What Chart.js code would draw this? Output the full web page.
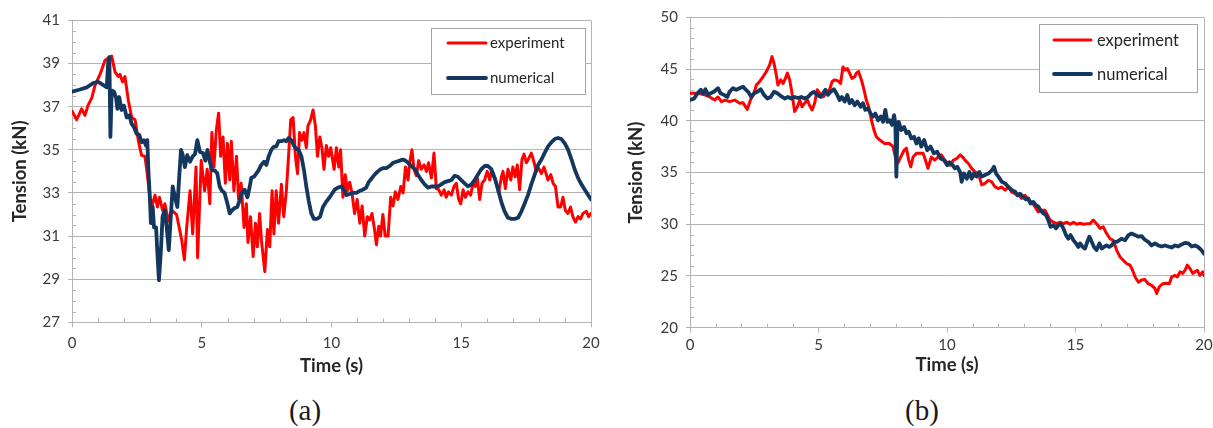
<!DOCTYPE html>
<html>
<head>
<meta charset="utf-8">
<script src="https://cdn.jsdelivr.net/npm/chart.js@4.4.1/dist/chart.umd.min.js"></script>
<style>
  html, body { margin: 0; padding: 0; background: #fff; width: 1213px; height: 428px; overflow: hidden; position: relative; }
  .panel { position: absolute; top: 0; }
  #panelA { left: 0; width: 611px; height: 385px; }
  #panelB { left: 610px; width: 614px; height: 390px; }
  .caption { position: absolute; font-family: "Liberation Serif", "DejaVu Serif", serif; font-size: 29px; line-height: 1; color: #1a1a1a; transform: translateX(-50%); }
</style>
</head>
<body>
<div class="panel" id="panelA"><canvas id="chartA"></canvas></div>
<div class="panel" id="panelB"><canvas id="chartB"></canvas></div>
<div class="caption" style="left:305px; top:396px;">(a)</div>
<div class="caption" style="left:922px; top:396px;">(b)</div>
<script>
// ---- (a) tension record, time in s, tension in kN ----
const timeA_experiment = [
  0, 0.18, 0.37, 0.5, 0.63, 0.76, 0.89, 1.08, 1.27, 1.44,
  1.53, 1.66, 1.79, 1.85, 1.95, 2.04, 2.17, 2.3, 2.43, 2.56,
  2.68, 2.81, 2.9, 3.0, 3.07, 3.2, 3.29, 3.37, 3.49, 3.58,
  3.71, 3.84, 4.03, 4.23, 4.33, 4.42, 4.55, 4.65, 4.78, 4.84,
  4.98, 5.11, 5.21, 5.31, 5.39, 5.47, 5.56, 5.65, 5.73, 5.82,
  5.91, 5.99, 6.08, 6.14, 6.24, 6.34, 6.42, 6.52, 6.63, 6.72,
  6.78, 6.88, 6.98, 7.07, 7.14, 7.23, 7.3, 7.43, 7.53, 7.62,
  7.71, 7.78, 7.87, 7.96, 8.07, 8.16, 8.26, 8.35, 8.43, 8.52,
  8.61, 8.69, 8.77, 8.86, 8.94, 9.03, 9.09, 9.2, 9.29, 9.38,
  9.46, 9.55, 9.63, 9.71, 9.8, 9.89, 9.97, 10.1, 10.19, 10.28,
  10.35, 10.44, 10.53, 10.61, 10.7, 10.79, 10.89, 10.99, 11.09, 11.18,
  11.28, 11.38, 11.47, 11.56, 11.66, 11.73, 11.82, 11.89, 11.98, 12.07,
  12.18, 12.28, 12.37, 12.46, 12.56, 12.67, 12.76, 12.85, 12.95, 13.01,
  13.1, 13.18, 13.27, 13.36, 13.46, 13.57, 13.66, 13.74, 13.85, 13.95,
  14.04, 14.13, 14.23, 14.34, 14.42, 14.51, 14.62, 14.72, 14.81, 14.9,
  14.98, 15.07, 15.16, 15.26, 15.36, 15.45, 15.54, 15.62, 15.71, 15.8,
  15.9, 16.0, 16.1, 16.16, 16.26, 16.35, 16.44, 16.55, 16.61, 16.7,
  16.8, 16.91, 16.99, 17.08, 17.16, 17.25, 17.34, 17.42, 17.51, 17.6,
  17.7, 17.8, 17.89, 17.98, 18.09, 18.19, 18.28, 18.34, 18.45, 18.54,
  18.63, 18.73, 18.83, 18.92, 19.01, 19.11, 19.21, 19.3, 19.4, 19.5,
  19.6, 19.69, 19.82, 19.91, 20.0
];
const tensionA_experiment = [
  36.8, 36.4, 36.9, 36.6, 37.1, 37.4, 38.0, 38.5, 39.15, 39.3,
  39.35, 38.6, 38.4, 38.5, 38.15, 38.4, 37.3, 36.5, 36.4, 35.4,
  34.75, 34.7, 33.9, 32.8, 32.35, 32.9, 32.35, 32.8, 32.2, 32.5,
  31.7, 32.2, 32.0, 30.8, 29.9, 31.4, 33.1, 31.1, 34.2, 30.0,
  34.5, 33.1, 34.1, 32.5, 35.8, 34.2, 35.9, 36.7, 34.7, 35.6,
  33.45, 35.3, 33.6, 35.4, 33.1, 34.7, 32.7, 33.45, 31.4, 32.5,
  30.7, 31.9, 30.05, 31.6, 30.5, 32.05, 30.8, 29.35, 31.3, 30.5,
  33.1, 31.1, 33.1, 31.6, 33.4, 31.9, 33.1, 34.8, 36.4, 36.5,
  34.7, 33.9, 35.8, 35.45, 35.8, 35.1, 36.1, 36.4, 36.85, 36.1,
  34.7, 35.6, 35.1, 34.1, 35.2, 34.7, 35.1, 34.1, 35.1, 34.2,
  35.0, 32.8, 33.85, 33.1, 33.5, 33.0, 32.05, 32.7, 31.6, 32.4,
  31.0, 31.9, 31.75, 32.05, 31.3, 30.6, 31.45, 31.0, 32.0, 31.0,
  31.0, 32.8, 32.4, 33.05, 32.7, 33.3, 33.0, 34.2, 33.6, 34.4,
  35.0, 34.1, 33.8, 34.5, 34.1, 34.3, 34.0, 34.4, 33.7, 34.85,
  33.2, 33.15, 32.9, 33.15, 32.8, 33.05, 32.9, 33.3, 33.45, 32.7,
  32.5, 33.15, 32.8, 33.05, 32.9, 33.4, 33.3, 33.7, 32.7, 33.45,
  33.6, 34.0, 33.6, 34.0, 33.75, 33.45, 33.0, 33.75, 34.0, 33.2,
  34.1, 33.6, 34.2, 33.75, 34.3, 33.15, 34.55, 34.8, 34.4, 34.6,
  34.85, 34.45, 34.0, 34.15, 33.9, 34.2, 33.85, 33.6, 33.85, 33.45,
  33.3, 32.35, 32.35, 32.8, 32.2, 32.05, 32.35, 31.9, 31.65, 31.9,
  31.8, 32.05, 32.15, 31.9, 32.05
];
const timeA_numerical = [
  0, 0.31, 0.57, 0.82, 1.01, 1.21, 1.34, 1.4, 1.44, 1.48,
  1.53, 1.62, 1.7, 1.75, 1.82, 1.91, 2.0, 2.11, 2.21, 2.3,
  2.39, 2.49, 2.59, 2.68, 2.77, 2.85, 2.9, 2.95, 3.0, 3.04,
  3.11, 3.16, 3.24, 3.3, 3.35, 3.42, 3.49, 3.57, 3.65, 3.73,
  3.8, 3.88, 3.97, 4.06, 4.14, 4.2, 4.26, 4.35, 4.44, 4.55,
  4.65, 4.74, 4.83, 4.93, 5.05, 5.14, 5.22, 5.31, 5.4, 5.5,
  5.6, 5.69, 5.78, 5.88, 5.99, 6.08, 6.17, 6.27, 6.37, 6.46,
  6.55, 6.65, 6.76, 6.85, 6.91, 7.01, 7.1, 7.19, 7.29, 7.4,
  7.49, 7.58, 7.68, 7.78, 7.87, 7.96, 8.07, 8.17, 8.26, 8.35,
  8.45, 8.55, 8.64, 8.73, 8.84, 8.94, 9.03, 9.12, 9.22, 9.32,
  9.45, 9.56, 9.67, 9.8, 9.93, 10.12, 10.25, 10.38, 10.48, 10.57,
  10.7, 10.83, 10.96, 11.09, 11.21, 11.34, 11.43, 11.53, 11.66, 11.79,
  11.89, 11.98, 12.11, 12.24, 12.37, 12.5, 12.63, 12.75, 12.85, 12.95,
  13.08, 13.21, 13.33, 13.46, 13.59, 13.72, 13.85, 13.98, 14.1, 14.23,
  14.36, 14.49, 14.62, 14.75, 14.87, 15.0, 15.13, 15.26, 15.39, 15.52,
  15.64, 15.77, 15.9, 16.03, 16.16, 16.29, 16.42, 16.54, 16.67, 16.8,
  16.93, 17.06, 17.19, 17.32, 17.44, 17.57, 17.7, 17.83, 17.96, 18.09,
  18.21, 18.34, 18.47, 18.6, 18.73, 18.86, 18.99, 19.12, 19.25, 19.37,
  19.5, 19.63, 19.76, 19.89, 20.0
];
const tensionA_numerical = [
  37.7, 37.8, 37.9, 38.1, 38.15, 38.0, 37.9, 39.15, 39.3, 35.6,
  37.75, 37.7, 37.4, 36.9, 37.45, 36.85, 37.05, 36.5, 36.6, 36.2,
  36.05, 35.75, 35.7, 35.35, 35.45, 35.2, 35.45, 33.9, 32.8, 31.6,
  32.35, 31.4, 31.4, 30.0, 28.95, 30.2, 31.9, 32.2, 31.4, 30.35,
  31.75, 33.3, 32.8, 32.35, 33.9, 35.0, 34.8, 34.2, 34.75, 34.45,
  34.7, 34.8, 35.45, 34.9, 34.85, 34.5, 35.0, 34.45, 34.05, 34.05,
  33.9, 33.3, 33.1, 33.0, 32.5, 32.05, 32.2, 32.3, 32.35, 32.65,
  33.0, 33.15, 32.8, 33.3, 33.7, 33.75, 33.9, 34.05, 34.3, 34.45,
  34.3, 34.7, 35.0, 35.15, 35.15, 35.4, 35.4, 35.45, 35.4, 35.55,
  35.45, 35.2, 35.05, 35.0, 34.7, 34.05, 33.3, 32.65, 32.05, 31.8,
  31.8, 31.9, 32.35, 32.6, 32.8, 33.15, 33.25, 33.3, 33.15, 32.9,
  32.95, 33.0, 33.0, 33.1, 33.15, 33.25, 33.5, 33.65, 33.85, 34.0,
  34.1, 34.15, 34.15, 34.25, 34.4, 34.45, 34.5, 34.55, 34.5, 34.4,
  34.25, 34.1, 33.85, 33.6, 33.4, 33.25, 33.3, 33.3, 33.3, 33.4,
  33.5, 33.55, 33.6, 33.8, 33.75, 33.6, 33.45, 33.3, 33.4, 33.6,
  33.85, 34.1, 34.25, 34.25, 34.1, 33.7, 33.15, 32.6, 32.15, 31.85,
  31.8, 31.8, 31.85, 32.15, 32.5, 32.9, 33.4, 33.85, 34.3, 34.55,
  34.85, 35.15, 35.35, 35.5, 35.55, 35.5, 35.3, 35.0, 34.55, 34.1,
  33.7, 33.4, 33.15, 32.9, 32.7
];

// ---- (b) tension record, time in s, tension in kN ----
const timeB_experiment = [
  0, 0.31, 0.57, 0.77, 0.96, 1.09, 1.22, 1.37, 1.54, 1.74,
  1.93, 2.06, 2.23, 2.36, 2.49, 2.58, 2.71, 2.84, 2.97, 3.1,
  3.19, 3.27, 3.36, 3.42, 3.53, 3.62, 3.71, 3.79, 3.88, 3.97,
  4.07, 4.18, 4.27, 4.36, 4.46, 4.57, 4.66, 4.75, 4.85, 4.95,
  5.05, 5.18, 5.3, 5.43, 5.53, 5.63, 5.76, 5.86, 5.95, 6.04,
  6.12, 6.21, 6.3, 6.41, 6.47, 6.56, 6.67, 6.77, 6.86, 6.95,
  7.06, 7.16, 7.25, 7.38, 7.57, 7.77, 7.9, 7.99, 8.09, 8.2,
  8.33, 8.42, 8.51, 8.59, 8.68, 8.81, 8.94, 9.07, 9.16, 9.26,
  9.39, 9.52, 9.65, 9.78, 9.91, 10.12, 10.25, 10.38, 10.51, 10.61,
  10.7, 10.83, 10.96, 11.09, 11.22, 11.35, 11.48, 11.61, 11.74, 11.87,
  12.0, 12.13, 12.26, 12.39, 12.52, 12.65, 12.78, 12.91, 13.04, 13.17,
  13.29, 13.42, 13.55, 13.68, 13.81, 13.91, 14.01, 14.14, 14.27, 14.4,
  14.53, 14.66, 14.79, 14.92, 15.05, 15.18, 15.31, 15.44, 15.56, 15.69,
  15.82, 15.95, 16.08, 16.21, 16.34, 16.47, 16.6, 16.73, 16.86, 16.99,
  17.12, 17.22, 17.32, 17.45, 17.57, 17.7, 17.83, 17.96, 18.09, 18.16,
  18.26, 18.39, 18.52, 18.65, 18.74, 18.87, 18.96, 19.07, 19.17, 19.26,
  19.35, 19.46, 19.56, 19.65, 19.74, 19.84, 19.95, 20.0
];
const tensionB_experiment = [
  42.65, 42.65, 42.5, 42.3, 42.0, 42.3, 41.85, 42.0, 41.85, 42.0,
  41.7, 41.75, 41.1, 42.05, 42.65, 43.45, 43.8, 44.25, 44.75, 45.4,
  46.2, 45.55, 44.4, 43.45, 43.95, 43.6, 44.1, 44.6, 43.95, 42.65,
  40.9, 41.35, 42.0, 41.35, 41.7, 42.0, 41.45, 41.05, 41.7, 43.0,
  42.65, 42.3, 42.65, 43.0, 43.8, 43.95, 43.85, 43.6, 45.2, 44.9,
  45.05, 44.6, 44.1, 44.25, 44.6, 44.75, 43.95, 43.0, 42.0, 41.35,
  40.05, 39.1, 38.45, 38.15, 37.8, 37.8, 37.5, 36.5, 35.9, 36.5,
  37.15, 37.35, 36.2, 35.55, 36.5, 36.85, 36.85, 36.85, 36.2, 35.4,
  36.5, 36.2, 36.5, 36.7, 36.2, 35.7, 36.2, 36.35, 36.7, 36.5,
  36.2, 35.87, 35.4, 35.05, 34.9, 33.8, 33.95, 34.25, 34.1, 33.6,
  33.45, 33.6, 33.3, 33.6, 33.1, 32.95, 32.8, 32.5, 32.8, 32.3,
  32.15, 31.7, 31.2, 31.35, 31.35, 30.9, 30.4, 30.2, 30.05, 30.2,
  30.05, 30.2, 30.0, 30.2, 30.0, 30.1, 30.0, 30.05, 30.05, 30.4,
  30.05, 29.6, 29.75, 29.1, 28.6, 28.45, 27.5, 26.85, 26.5, 26.2,
  26.05, 25.55, 24.9, 24.4, 24.6, 24.65, 24.25, 24.1, 23.8, 23.3,
  23.95, 24.25, 24.3, 24.25, 24.9, 25.05, 24.9, 25.4, 25.25, 25.55,
  26.05, 25.7, 25.25, 25.4, 25.55, 25.05, 25.4, 25.05
];
const timeB_numerical = [
  0, 0.16, 0.29, 0.42, 0.51, 0.6, 0.7, 0.8, 0.93, 1.09,
  1.19, 1.32, 1.45, 1.54, 1.67, 1.8, 1.93, 2.06, 2.15, 2.26,
  2.39, 2.49, 2.62, 2.75, 2.88, 3.01, 3.14, 3.27, 3.4, 3.53,
  3.68, 3.81, 3.94, 4.07, 4.2, 4.33, 4.46, 4.59, 4.72, 4.82,
  4.95, 5.08, 5.18, 5.27, 5.37, 5.47, 5.6, 5.73, 5.82, 5.91,
  6.02, 6.12, 6.21, 6.3, 6.41, 6.51, 6.64, 6.73, 6.82, 6.93,
  7.03, 7.12, 7.21, 7.32, 7.42, 7.51, 7.6, 7.68, 7.77, 7.86,
  7.94, 7.99, 8.03, 8.07, 8.12, 8.22, 8.33, 8.42, 8.51, 8.61,
  8.72, 8.81, 8.9, 9.0, 9.11, 9.23, 9.36, 9.49, 9.62, 9.75,
  9.88, 10.01, 10.1, 10.22, 10.31, 10.4, 10.51, 10.57, 10.66, 10.77,
  10.87, 10.96, 11.05, 11.15, 11.26, 11.35, 11.48, 11.61, 11.74, 11.83,
  11.91, 12.0, 12.13, 12.26, 12.39, 12.52, 12.65, 12.74, 12.84, 12.97,
  13.07, 13.16, 13.25, 13.36, 13.46, 13.55, 13.64, 13.75, 13.85, 13.94,
  14.03, 14.14, 14.24, 14.33, 14.42, 14.53, 14.63, 14.72, 14.81, 14.92,
  15.02, 15.11, 15.18, 15.28, 15.37, 15.46, 15.54, 15.63, 15.72, 15.82,
  15.93, 16.02, 16.11, 16.21, 16.31, 16.41, 16.5, 16.6, 16.7, 16.79,
  16.93, 17.06, 17.18, 17.31, 17.44, 17.57, 17.7, 17.83, 17.96, 18.09,
  18.22, 18.35, 18.48, 18.61, 18.74, 18.87, 19.0, 19.13, 19.26, 19.39,
  19.52, 19.65, 19.77, 19.9, 20.0
];
const tensionB_numerical = [
  42.0, 42.15, 42.65, 43.0, 42.65, 43.05, 42.5, 42.65, 42.8, 43.15,
  42.65, 42.5, 42.3, 42.8, 43.15, 43.0, 43.15, 43.3, 43.05, 42.8,
  42.3, 42.65, 42.8, 43.05, 42.5, 42.15, 42.3, 42.8, 42.65, 42.4,
  42.15, 42.3, 42.15, 42.3, 42.2, 42.3, 42.15, 42.3, 42.65, 42.8,
  42.5, 42.3, 42.65, 43.0, 42.5, 42.8, 43.05, 42.5, 42.0, 42.3,
  41.85, 42.5, 41.7, 42.0, 41.5, 41.85, 41.35, 41.7, 41.05, 41.2,
  40.7, 40.4, 40.7, 40.05, 40.4, 39.9, 41.05, 39.9, 40.05, 39.6,
  40.55, 39.75, 34.6, 39.1, 39.9, 39.1, 39.4, 38.8, 38.95, 38.3,
  38.45, 37.8, 38.3, 37.5, 38.15, 37.15, 37.5, 36.85, 37.0, 36.35,
  36.2, 35.7, 36.0, 35.7, 35.4, 35.55, 35.05, 34.1, 34.9, 34.4,
  35.05, 34.4, 34.9, 34.6, 35.05, 34.6, 34.75, 34.9, 35.2, 35.55,
  34.9, 34.6, 34.1, 33.95, 33.6, 33.3, 33.15, 32.8, 32.95, 32.65,
  32.4, 32.5, 32.0, 32.15, 31.85, 31.7, 31.35, 31.05, 30.9, 30.4,
  29.75, 29.9, 29.6, 29.9, 30.05, 29.6, 28.95, 28.6, 28.95, 28.45,
  28.15, 27.8, 28.15, 27.8, 27.65, 28.3, 28.8, 28.3, 27.8, 27.5,
  28.15, 27.65, 27.8, 27.95, 27.8, 27.95, 28.3, 28.3, 28.45, 28.6,
  28.45, 28.95, 29.1, 28.95, 28.8, 28.85, 28.5, 28.3, 27.95, 28.15,
  27.95, 27.85, 27.95, 27.85, 27.75, 27.95, 27.85, 28.05, 28.2, 28.15,
  27.85, 27.95, 27.8, 27.5, 27.15
];

const seriesLabels = ['experiment', 'numerical'];
const timeAxisLabel = 'Time (s)';
const tensionLabel = 'Tension (kN)';

const GRID = '#b4b4b4';
const TEXT = '#3a3a3a';
const TITLE = '#262626';
const RED = '#ff0000';
const NAVY = '#14375f';

function points(ts, vs) {
  return ts.map((t, i) => ({ x: t, y: vs[i] }));
}

// minor tick marks on the inside of both axes, plus a boxed legend in the plot corner
const excelAxes = {
  id: 'excelAxes',
  beforeDatasetsDraw(chart, args, o) {
    const { ctx, chartArea: a, scales: { x, y } } = chart;
    ctx.save();
    ctx.strokeStyle = GRID;
    ctx.lineWidth = 1;
    ctx.beginPath();
    for (let v = x.min; v <= x.max + 1e-9; v += o.xMinor) {
      const k = (v - x.min) / o.xMajor;
      if (Math.abs(k - Math.round(k)) < 1e-6) continue;
      const px = Math.round(x.getPixelForValue(v)) + 0.5;
      ctx.moveTo(px, a.bottom);
      ctx.lineTo(px, a.bottom - o.len);
    }
    for (let v = y.min; v <= y.max + 1e-9; v += o.yMinor) {
      const k = (v - y.min) / o.yMajor;
      if (Math.abs(k - Math.round(k)) < 1e-6) continue;
      const py = Math.round(y.getPixelForValue(v)) + 0.5;
      ctx.moveTo(a.left, py);
      ctx.lineTo(a.left + o.len, py);
    }
    ctx.stroke();
    ctx.restore();
  },
  afterDatasetsDraw(chart, args, o) {
    const { ctx, chartArea: a } = chart;
    const L = o.legend;
    const x0 = Math.round(a.right - L.inset - L.w);
    const y0 = Math.round(a.top + L.top);
    ctx.save();
    ctx.fillStyle = '#ffffff';
    ctx.fillRect(x0, y0, L.w, L.h);
    ctx.strokeStyle = '#a3a3a3';
    ctx.lineWidth = 1;
    ctx.strokeRect(x0 + 0.5, y0 + 0.5, L.w, L.h);
    chart.data.datasets.forEach((ds, i) => {
      const yy = y0 + L.rows[i];
      ctx.strokeStyle = ds.borderColor;
      ctx.lineWidth = ds.borderWidth;
      ctx.lineCap = 'round';
      ctx.beginPath();
      ctx.moveTo(x0 + L.lineX, yy);
      ctx.lineTo(x0 + L.lineX + L.lineLen, yy);
      ctx.stroke();
      ctx.fillStyle = TITLE;
      ctx.font = L.fontSize + 'px Lato';
      ctx.textBaseline = 'middle';
      ctx.textAlign = 'left';
      ctx.fillText(ds.label, x0 + L.textX, yy + 0.5);
    });
    ctx.restore();
  }
};

function makeChart(canvasId, P) {
  return new Chart(document.getElementById(canvasId), {
    type: 'line',
    data: {
      datasets: [
        { label: seriesLabels[0], data: points(P.tExp, P.vExp), borderColor: RED, borderWidth: 3, order: 1 },
        { label: seriesLabels[1], data: points(P.tNum, P.vNum), borderColor: NAVY, borderWidth: 3.8, order: 0 }
      ]
    },
    plugins: [excelAxes],
    options: {
      responsive: true,
      maintainAspectRatio: false,
      animation: false,
      events: [],
      layout: { padding: P.padding },
      elements: {
        point: { radius: 0 },
        line: { tension: 0, borderJoinStyle: 'round', borderCapStyle: 'round' }
      },
      plugins: {
        legend: { display: false },
        tooltip: { enabled: false },
        excelAxes: { xMinor: 1, xMajor: 5, yMinor: P.yMinor, yMajor: P.yStep, len: 4, legend: P.legend }
      },
      scales: {
        x: {
          type: 'linear',
          min: 0,
          max: 20,
          afterFit: (s) => { s.height = P.xAxisHeight; },
          ticks: { stepSize: 5, maxRotation: 0, color: TEXT, font: { family: 'Lato', size: 15 }, padding: P.xTickPad },
          grid: {
            color: (c) => (c.tick && c.tick.value === 20 ? GRID : 'rgba(0,0,0,0)'),
            tickColor: GRID,
            tickLength: 5,
            lineWidth: 1
          },
          border: { color: GRID, width: 1 },
          title: {
            display: true, text: timeAxisLabel, color: TITLE,
            font: { family: 'Lato', size: 18.5, weight: 'bold' },
            padding: { top: 0, bottom: P.xTitlePad }
          }
        },
        y: {
          type: 'linear',
          min: P.yMin,
          max: P.yMax,
          afterFit: (s) => { s.width = P.yAxisWidth; },
          ticks: { stepSize: P.yStep, color: TEXT, font: { family: 'Lato', size: 15 }, padding: 8 },
          grid: { color: GRID, tickColor: GRID, tickLength: 4, lineWidth: 1 },
          border: { color: GRID, width: 1 },
          title: {
            display: true, text: tensionLabel, color: TITLE,
            font: { family: 'Lato', size: 18.5, weight: 'bold' },
            padding: { top: P.yTitlePad, bottom: 0 }
          }
        }
      }
    }
  });
}

const charts = [
  makeChart('chartA', {
    tExp: timeA_experiment, vExp: tensionA_experiment,
    tNum: timeA_numerical, vNum: tensionA_numerical,
    yMin: 27, yMax: 41, yStep: 2, yMinor: 0.5,
    padding: { top: 20.5, left: 0, right: 20, bottom: 0 },
    yAxisWidth: 72, xAxisHeight: 62.7, xTickPad: 7, xTitlePad: 7.9, yTitlePad: 8.9,
    legend: { inset: 6, top: 7.5, w: 154, h: 66, rows: [15, 50], lineX: 17, lineLen: 38, textX: 59, fontSize: 15 }
  }),
  makeChart('chartB', {
    tExp: timeB_experiment, vExp: tensionB_experiment,
    tNum: timeB_numerical, vNum: tensionB_numerical,
    yMin: 20, yMax: 50, yStep: 5, yMinor: 1,
    padding: { top: 17.3, left: 0, right: 20, bottom: 0 },
    yAxisWidth: 80, xAxisHeight: 62.3, xTickPad: 3.5, xTitlePad: 13.9, yTitlePad: 14.9,
    legend: { inset: 7, top: 6.7, w: 158, h: 68, rows: [16, 50], lineX: 15, lineLen: 37, textX: 58, fontSize: 16.5 }
  })
];

if (document.fonts && document.fonts.ready) {
  document.fonts.ready.then(() => charts.forEach((c) => c.update('none')));
}
</script>
</body>
</html>
